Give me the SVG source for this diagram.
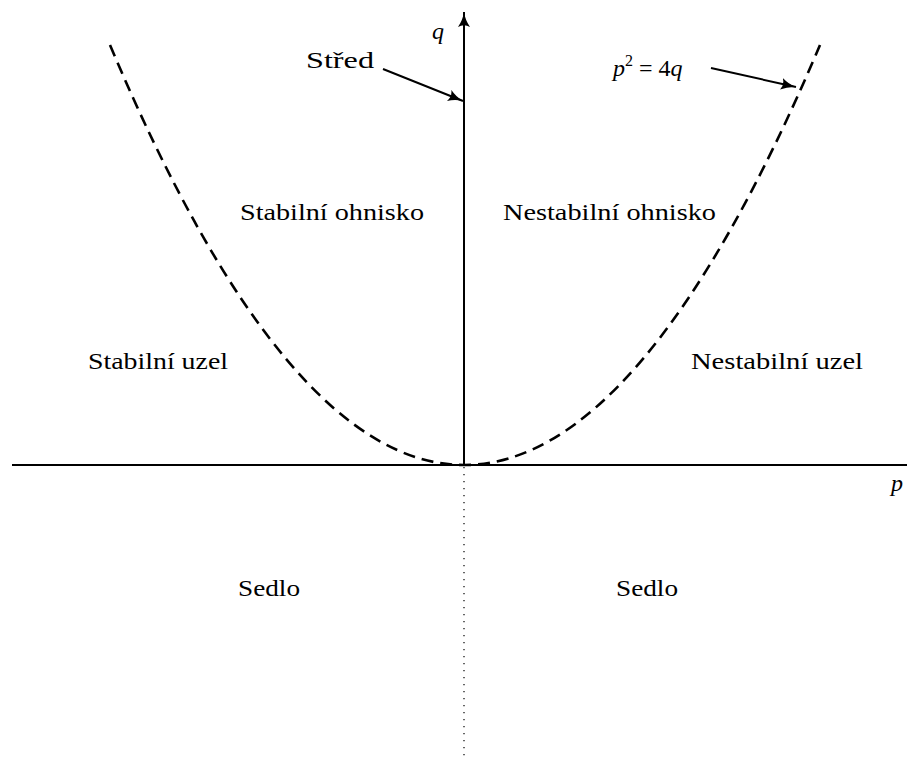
<svg xmlns="http://www.w3.org/2000/svg" width="907" height="757" viewBox="0 0 907 757">
<defs>
<marker id="ah" markerWidth="16" markerHeight="12" refX="15" refY="6" orient="auto" markerUnits="userSpaceOnUse">
<path d="M0,0 Q7,4.8 15,6 Q7,7.2 0,12 Q3.5,6 0,0 Z" fill="#000"/>
</marker>
</defs>
<style>
text{font-family:"Liberation Serif","Times New Roman",Times,serif;fill:#000}
.i{font-style:italic}
.ax{stroke:#000;stroke-width:2;fill:none}
.ptr{stroke:#000;stroke-width:2;fill:none}
</style>
<rect width="907" height="757" fill="#fff"/>
<g id="connectors">
<line class="ax" x1="12" y1="465" x2="907" y2="465"/>
<line class="ax" x1="464" y1="465" x2="464" y2="12" marker-end="url(#ah)"/>
<line x1="464" y1="467" x2="464" y2="757" stroke="#000" stroke-width="1.2" stroke-dasharray="1.3 5.7"/>
<path d="M110,45 Q287,465 464,465 Q642,465 820,45" fill="none" stroke="#000" stroke-width="2.6" stroke-dasharray="12 7"/>
<line class="ptr" x1="383" y1="69" x2="463" y2="101" marker-end="url(#ah)"/>
<line class="ptr" x1="711" y1="68" x2="796" y2="87" marker-end="url(#ah)"/>
</g>
<g id="labels">
<text class="i" x="432" y="39" font-size="24">q</text>
<text class="i" x="891" y="491" font-size="24">p</text>
<text x="306" y="68" font-size="23" textLength="68" lengthAdjust="spacingAndGlyphs">Střed</text>
<text x="613" y="76" font-size="24"><tspan class="i">p</tspan><tspan font-size="16" dy="-10">2</tspan><tspan dy="10"> = 4</tspan><tspan class="i">q</tspan></text>
</g>
<g id="stabilni-ohnisko"><text x="240" y="220" font-size="23" textLength="184" lengthAdjust="spacingAndGlyphs">Stabilní ohnisko</text></g>
<g id="nestabilni-ohnisko"><text x="503" y="220" font-size="23" textLength="213" lengthAdjust="spacingAndGlyphs">Nestabilní ohnisko</text></g>
<g id="stabilni-uzel"><text x="88" y="369" font-size="23" textLength="140" lengthAdjust="spacingAndGlyphs">Stabilní uzel</text></g>
<g id="nestabilni-uzel"><text x="691" y="369" font-size="23" textLength="172" lengthAdjust="spacingAndGlyphs">Nestabilní uzel</text></g>
<g id="sedlo-left"><text x="238" y="596" font-size="23" textLength="62" lengthAdjust="spacingAndGlyphs">Sedlo</text></g>
<g id="sedlo-right"><text x="616" y="596" font-size="23" textLength="62" lengthAdjust="spacingAndGlyphs">Sedlo</text></g>
</svg>
